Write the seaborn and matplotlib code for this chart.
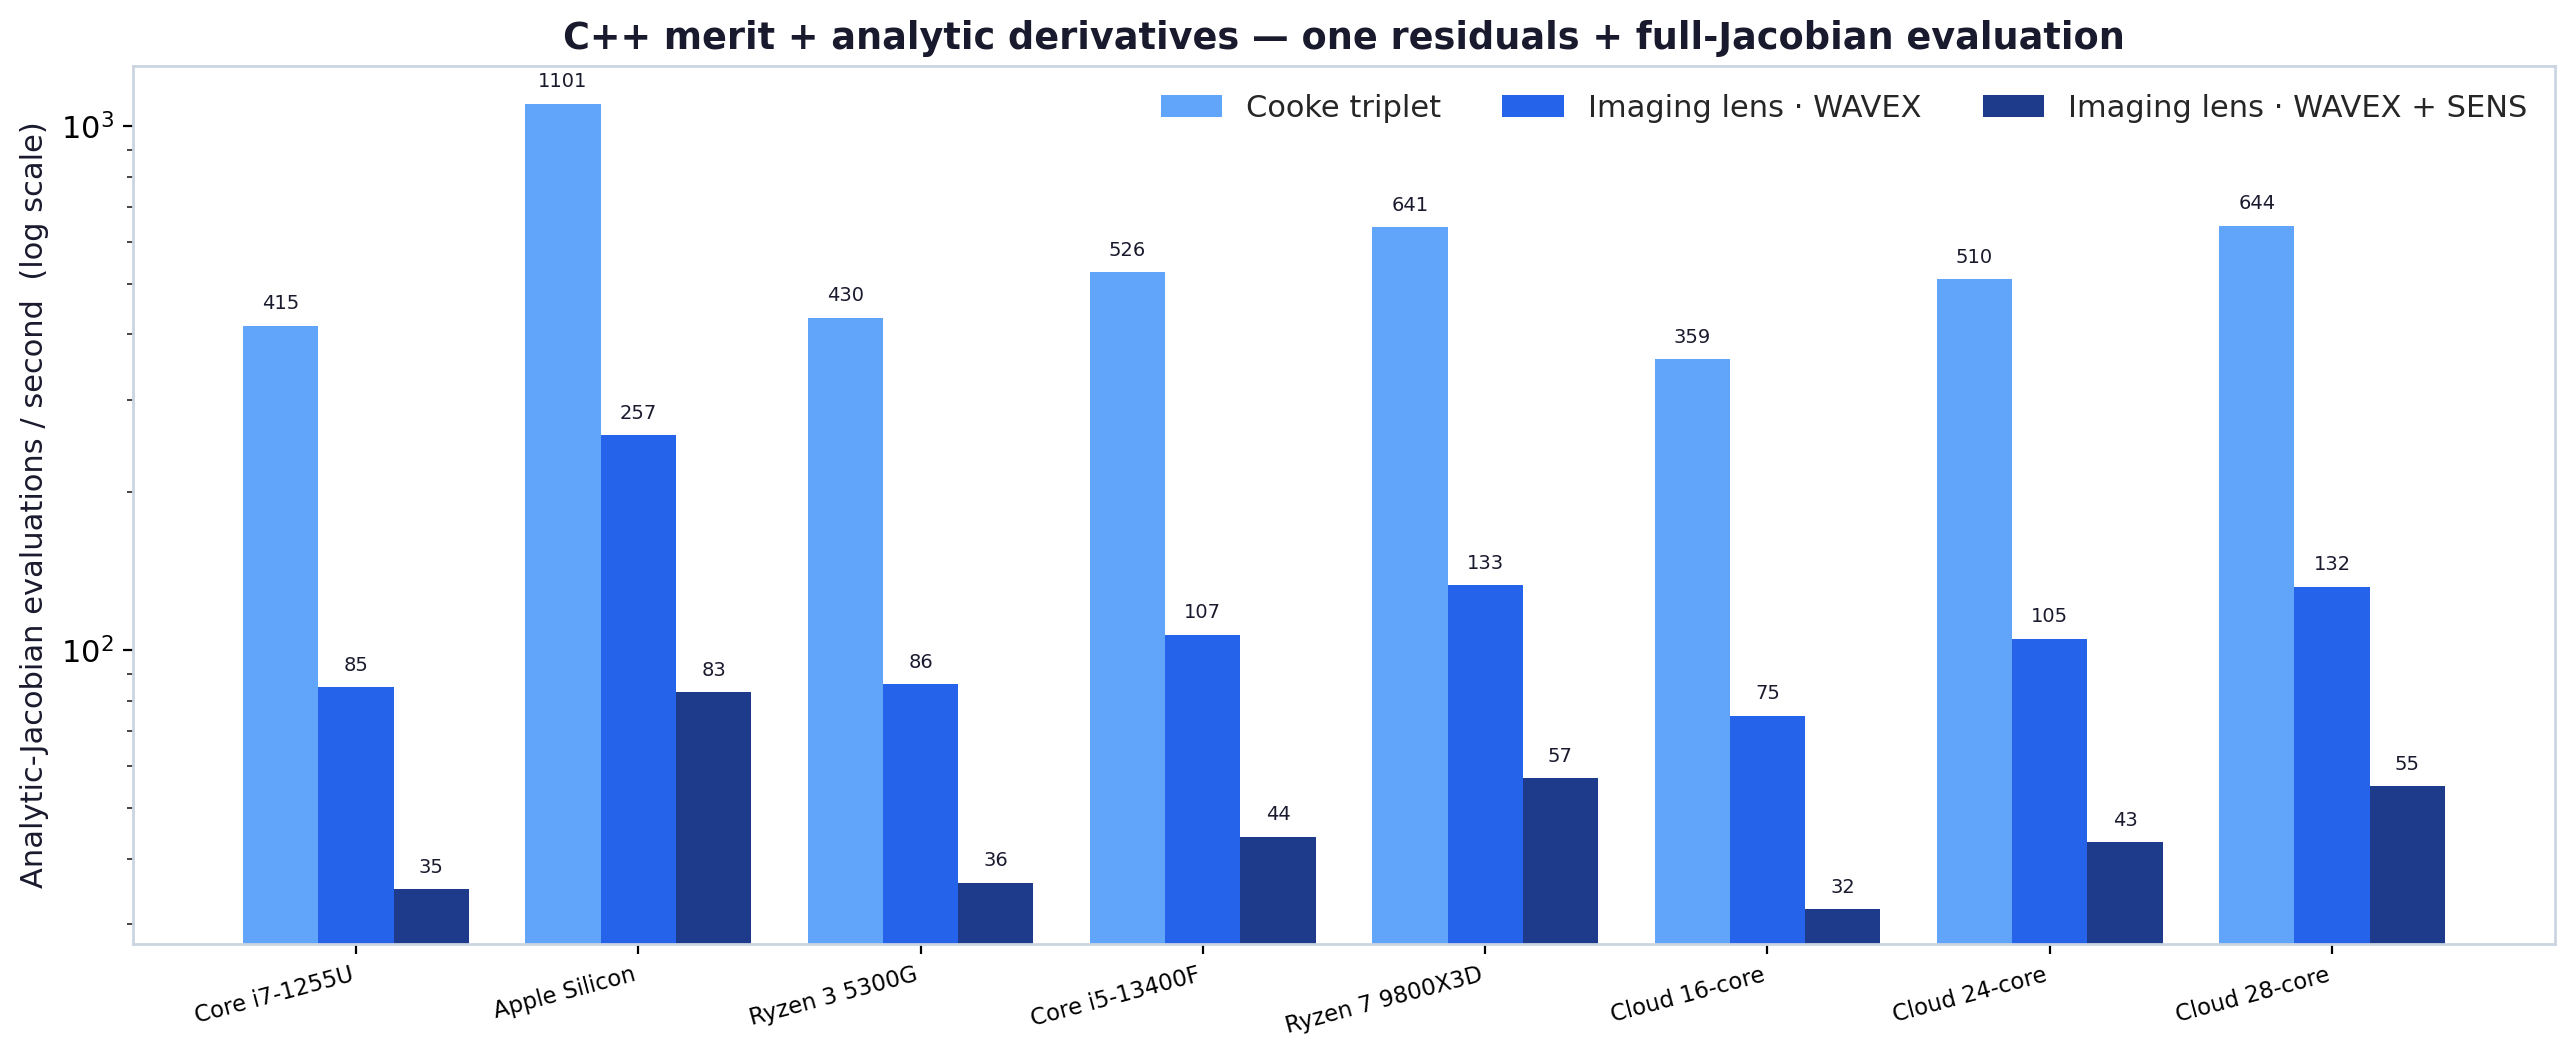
import numpy as np
import pandas as pd
import matplotlib
matplotlib.use("Agg")
import matplotlib.pyplot as plt
import seaborn as sns

machines = ["Core i7-1255U", "Apple Silicon", "Ryzen 3 5300G", "Core i5-13400F",
            "Ryzen 7 9800X3D", "Cloud 16-core", "Cloud 24-core", "Cloud 28-core"]
series_names = ["Cooke triplet", "Imaging lens · WAVEX", "Imaging lens · WAVEX + SENS"]
cooke = [415, 1101, 430, 526, 641, 359, 510, 644]
wavex = [85, 257, 86, 107, 133, 75, 105, 132]
wavex_sens = [35, 83, 36, 44, 57, 32, 43, 55]
colors = ["#60a5fa", "#2563eb", "#1e3a8a"]

rows = []
for name, vals in zip(series_names, [cooke, wavex, wavex_sens]):
    for m, v in zip(machines, vals):
        rows.append({"machine": m, "series": name, "value": v})
df = pd.DataFrame(rows)

sns.set_style("ticks")
plt.rcParams["font.family"] = ["DejaVu Sans"]

fig = plt.figure(figsize=(12.855, 5.275), dpi=200)
ax = fig.add_axes([133/2571, 1-944/1055, (2555-133)/2571, (944-66)/1055])
ax.set_yscale("log")
sns.barplot(data=df, x="machine", y="value", hue="series", palette=colors,
            saturation=1, width=0.8, ax=ax, errorbar=None, order=machines,
            hue_order=series_names, linewidth=0, edgecolor="none")

for cont in ax.containers:
    ax.bar_label(cont, labels=[f"{b.get_height():.0f}" for b in cont],
                 padding=4.5, fontsize=7, color="#1a1a2e")

ax.set_ylim(27.5, 1300)
ax.set_xlim(-0.79, 7.79)
ax.set_xlabel("")
ax.set_ylabel("Analytic-Jacobian evaluations / second  (log scale)", fontsize=11, color="#1a1a2e")
ax.set_title("C++ merit + analytic derivatives — one residuals + full-Jacobian evaluation",
             fontsize=13.2, fontweight="bold", color="#1a1a2e")
ax.tick_params(axis="y", labelsize=11, colors="black")
ax.tick_params(axis="x", labelsize=8.2, colors="black")
plt.setp(ax.get_xticklabels(), rotation=15, ha="right")
for s in ax.spines.values():
    s.set_color("#cbd5e1")
    s.set_linewidth(1.0)
ax.legend(loc="upper right", ncol=3, frameon=False, fontsize=11)

fig.savefig("out.png", dpi=200)
